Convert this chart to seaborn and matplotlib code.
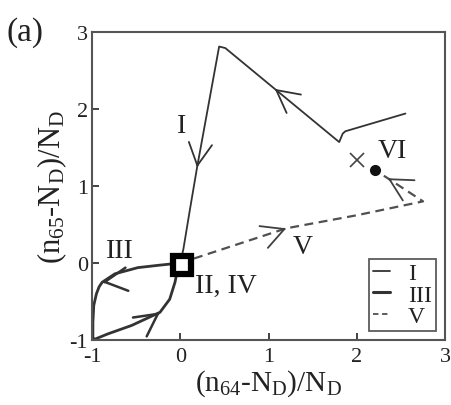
import numpy as np
import matplotlib
matplotlib.use("Agg")
import matplotlib.pyplot as plt
import seaborn as sns
from matplotlib.lines import Line2D

# Trajectory I (thin solid)
i_x = [2.55, 1.87, 1.84, 1.80, 1.07, 0.51, 0.44, 0.19, 0.11, 0.035, 0.0]
i_y = [1.94, 1.71, 1.68, 1.57, 2.26, 2.79, 2.81, 1.24, 0.70, 0.18, 0.0]
i_arrows = [4, 7]
i_heading = [142, 262]          # arrow direction, degrees on screen

# Trajectory III (thick solid loop)
iii_x = [0.0, -0.25, -0.48, -0.74, -0.885, -0.92, -0.95, -0.98, -0.99, -0.99, -0.97,
         -0.82, -0.55, -0.23, -0.12, -0.06, -0.03, 0.0]
iii_y = [0.0, -0.03, -0.06, -0.14, -0.25, -0.31, -0.40, -0.55, -0.77, -0.97, -0.99,
         -0.92, -0.81, -0.64, -0.47, -0.25, -0.08, 0.0]
iii_arrows = [4, 13]
iii_heading = [187, 36]

# Trajectory V (dashed)
v_x = [0.0, 0.6, 1.2, 2.0, 2.75, 2.35, 2.2]
v_y = [0.0, 0.225, 0.45, 0.62, 0.80, 1.10, 1.21]
v_arrows = [2, 5]
v_heading = [21, 150]

# Special points
fixed_x, fixed_y = [0.02], [-0.02]   # II, IV
dot_x, dot_y = [2.2], [1.21]         # end of V
cross_x, cross_y = [2.0], [1.34]     # VI

labels = ["I", "III", "V", "II, IV", "VI"]
label_x = [0.016, -0.68, 1.39, 0.52, 2.40]
label_y = [1.78, 0.16, 0.21, -0.29, 1.46]

sns.set_theme(style="ticks")
plt.rcParams["font.family"] = ["Liberation Serif", "DejaVu Serif"]
plt.rcParams["mathtext.fontset"] = "custom"
plt.rcParams["mathtext.rm"] = "Liberation Serif"
plt.rcParams["mathtext.it"] = "Liberation Serif:italic"
plt.rcParams["mathtext.default"] = "regular"
plt.rcParams["axes.unicode_minus"] = False

ink = "#333333"
txt = "#222222"
fig = plt.figure(figsize=(4.51, 4.06), dpi=100)
ax = fig.add_axes([0.204, 0.160, 0.783, 0.759])

sns.lineplot(x=i_x, y=i_y, sort=False, estimator=None, ax=ax, color=ink, lw=1.3)
sns.lineplot(x=iii_x, y=iii_y, sort=False, estimator=None, ax=ax, color=ink, lw=2.0)
sns.lineplot(x=v_x, y=v_y, sort=False, estimator=None, ax=ax, color="#505050",
             lw=1.6, linestyle=(0, (4, 2.5)))


def arrow_at(xs, ys, idx, heading, lw, color):
    a = np.deg2rad(heading)
    ax.annotate("", xy=(xs[idx], ys[idx]),
                xytext=(-2 * np.cos(a), -2 * np.sin(a)), textcoords="offset points",
                arrowprops=dict(arrowstyle="->,head_length=0.8,head_width=0.42",
                                lw=lw, color=color, shrinkA=0, shrinkB=0,
                                mutation_scale=20))


for k, h in zip(i_arrows, i_heading):
    arrow_at(i_x, i_y, k, h, 1.3, ink)
for k, h in zip(iii_arrows, iii_heading):
    arrow_at(iii_x, iii_y, k, h, 1.8, ink)
for k, h in zip(v_arrows, v_heading):
    arrow_at(v_x, v_y, k, h, 1.3, "#404040")

ax.plot(fixed_x, fixed_y, marker="s", ms=13, mew=4.5, mec="black", mfc="white",
        ls="none", zorder=5)
ax.plot(dot_x, dot_y, marker="o", ms=7, color="#111111", ls="none", zorder=5)
ax.plot(cross_x, cross_y, marker="x", ms=10, mew=1.2, color="#444444", ls="none", zorder=5)

for t, x, y in zip(labels, label_x, label_y):
    ax.text(x, y, t, fontsize=20, ha="center", va="center", color=txt)

ax.set_xlim(-1, 3)
ax.set_ylim(-1, 3)
ax.set_xticks([-1, 0, 1, 2, 3])
ax.set_yticks([-1, 0, 1, 2, 3])
ax.tick_params(direction="in", length=5, width=1.2, labelsize=16, colors=txt,
               pad=3, top=False, right=False)
ax.tick_params(axis="x", pad=5)
for s in ax.spines.values():
    s.set_color("#555555")
    s.set_linewidth(1.5)
    s.set_visible(True)

ax.set_xlabel("(n$_{64}$-N$_{D}$)/N$_{D}$", fontsize=21, color=txt, labelpad=1)
ax.set_ylabel("(n$_{65}$-N$_{D}$)/N$_{D}$", fontsize=22, color=txt, labelpad=0)

handles = [Line2D([], [], color=ink, lw=1.3),
           Line2D([], [], color=ink, lw=2.2),
           Line2D([], [], color="#505050", lw=1.3, linestyle=(0, (3, 2)))]
leg = ax.legend(handles, ["I", "III", "V"], loc="lower right", fontsize=17,
                handlelength=0.75, handletextpad=0.75, labelspacing=0.0,
                borderaxespad=0.4, borderpad=0.15, frameon=True, fancybox=False)
leg.get_frame().set_edgecolor("#333333")
leg.get_frame().set_linewidth(1.3)
for t in leg.get_texts():
    t.set_color(txt)

fig.text(0.015, 1 - 33 / 406, "(a)", fontsize=24, ha="left", va="center", color=txt)

fig.savefig("out.png", dpi=100, facecolor="white")
